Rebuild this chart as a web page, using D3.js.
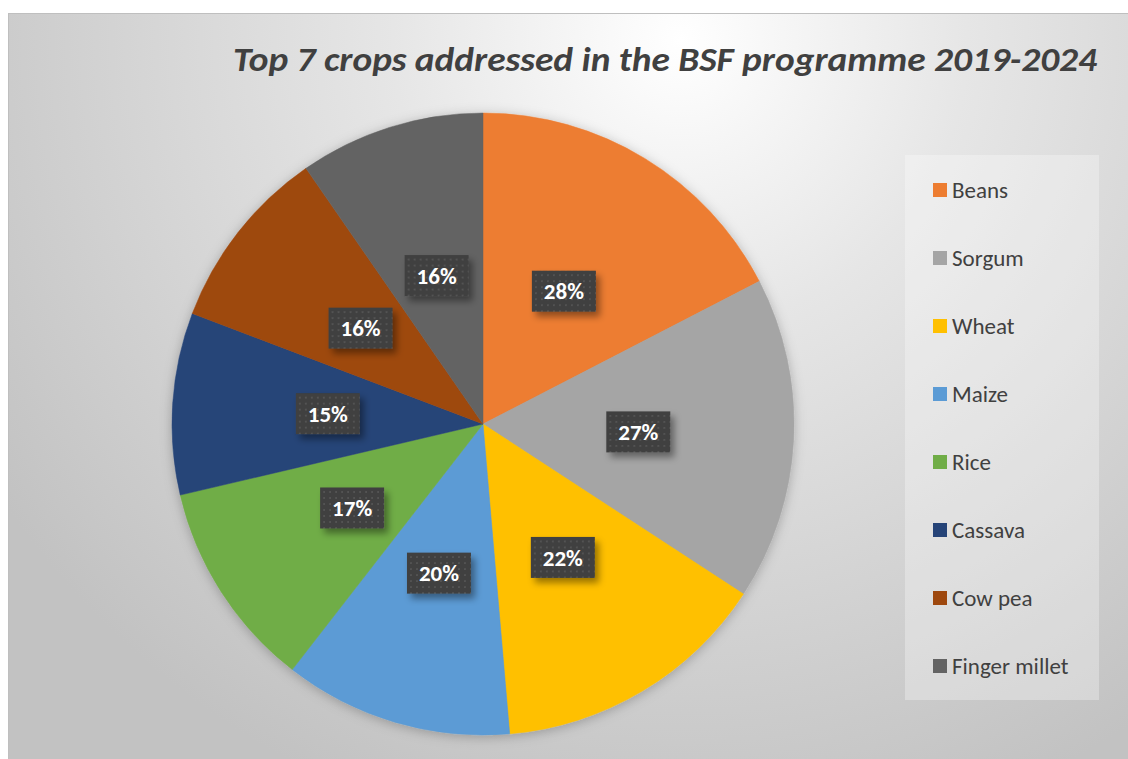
<!DOCTYPE html>
<html>
<head>
<meta charset="utf-8">
<script src="https://cdn.jsdelivr.net/npm/d3@7"></script>
<style>
  body { margin: 0; background: #fff; }
  svg { display: block; }
</style>
</head>
<body>
<div id="chart"></div>
<script>
// data
const crops = ['Beans', 'Sorgum', 'Wheat', 'Maize', 'Rice', 'Cassava', 'Cow pea', 'Finger millet'];
// labels as printed on the chart
const shares = [28, 27, 22, 20, 17, 15, 16, 16];
// slice sizes as drawn (they don't follow the labels exactly)
const sliceValues = [28, 27, 23.2, 19.1, 17.4, 15.2, 15.4, 15.5];
const colors = ['#ED7D31', '#A5A5A5', '#FFC000', '#5B9BD5', '#70AD47', '#264478', '#9E480E', '#636363'];
const title = 'Top 7 crops addressed in the BSF programme 2019-2024';

const width = 1128;
const height = 759;
const cx = 483, cy = 424, radius = 311;

const svg = d3.select('#chart').append('svg')
  .attr('width', width)
  .attr('height', height);

const defs = svg.append('defs');

// chart background gradient
const bg = defs.append('radialGradient')
  .attr('id', 'bg')
  .attr('gradientUnits', 'userSpaceOnUse')
  .attr('cx', 680).attr('cy', 40).attr('r', 820);
bg.append('stop').attr('offset', '0%').attr('stop-color', '#ffffff');
bg.append('stop').attr('offset', '35%').attr('stop-color', '#e6e6e6');
bg.append('stop').attr('offset', '100%').attr('stop-color', '#c2c2c2');

// dotted pattern for data label boxes
const pat = defs.append('pattern')
  .attr('id', 'dots')
  .attr('patternUnits', 'userSpaceOnUse')
  .attr('width', 6).attr('height', 6);
pat.append('rect').attr('width', 6).attr('height', 6).attr('fill', '#3f3f3f');
pat.append('rect').attr('x', 1).attr('y', 1).attr('width', 2).attr('height', 2).attr('fill', '#525252');

const shadow = defs.append('filter').attr('id', 'shadow')
  .attr('x', '-30%').attr('y', '-30%').attr('width', '160%').attr('height', '160%');
shadow.append('feDropShadow')
  .attr('dx', 4).attr('dy', 5).attr('stdDeviation', 3.5)
  .attr('flood-color', '#000').attr('flood-opacity', 0.4);

const pieShadow = defs.append('filter').attr('id', 'pieShadow')
  .attr('x', '-10%').attr('y', '-10%').attr('width', '120%').attr('height', '120%');
pieShadow.append('feDropShadow')
  .attr('dx', 0).attr('dy', 2).attr('stdDeviation', 6)
  .attr('flood-color', '#000').attr('flood-opacity', 0.25);

// chart area
svg.append('rect')
  .attr('x', 8.5).attr('y', 13.5)
  .attr('width', width - 8).attr('height', height - 13)
  .attr('fill', 'url(#bg)')
  .attr('stroke', '#bfbfbf')
  .attr('stroke-width', 1);

// title
svg.append('text')
  .attr('x', 665).attr('y', 71)
  .attr('text-anchor', 'middle')
  .attr('font-family', 'Carlito, "Open Sans", sans-serif')
  .attr('font-weight', 'bold')
  .attr('font-style', 'italic')
  .attr('font-size', 35)
  .attr('fill', '#404040')
  .attr('textLength', 864)
  .attr('lengthAdjust', 'spacingAndGlyphs')
  .text(title);

// pie
const pie = d3.pie().value(d => d.value).sort(null);
const arc = d3.arc().innerRadius(0).outerRadius(radius);
const arcs = pie(crops.map((c, i) => ({ label: c, value: sliceValues[i], share: shares[i], color: colors[i] })));

const g = svg.append('g').attr('transform', `translate(${cx}, ${cy})`);

g.append('g').attr('filter', 'url(#pieShadow)')
  .selectAll('path')
  .data(arcs)
  .enter().append('path')
  .attr('d', arc)
  .attr('fill', d => d.data.color)
  .attr('stroke', d => d.data.color)
  .attr('stroke-width', 0.5);

// data labels
const labels = g.selectAll('.lbl')
  .data(arcs)
  .enter().append('g')
  .attr('class', 'lbl')
  .attr('transform', d => `translate(${arc.centroid(d)})`);

const boxW = 64, boxH = 41;
labels.append('rect')
  .attr('x', -boxW / 2).attr('y', -boxH / 2)
  .attr('width', boxW).attr('height', boxH)
  .attr('fill', 'url(#dots)')
  .attr('filter', 'url(#shadow)');

labels.append('text')
  .attr('text-anchor', 'middle')
  .attr('dy', '0.36em')
  .attr('font-family', 'Carlito, "Open Sans", sans-serif')
  .attr('font-weight', 'bold')
  .attr('font-size', 23)
  .attr('fill', '#ffffff')
  .text(d => d.data.share + '%');

// legend
const legend = svg.append('g');
legend.append('rect')
  .attr('x', 905).attr('y', 155)
  .attr('width', 194).attr('height', 545)
  .attr('fill', '#ffffff')
  .attr('fill-opacity', 0.3);

const legendY = d3.scalePoint().domain(crops).range([190, 666]);

const items = legend.selectAll('.item')
  .data(crops)
  .enter().append('g')
  .attr('class', 'item')
  .attr('transform', d => `translate(933, ${legendY(d)})`);

items.append('rect')
  .attr('x', 0).attr('y', -7)
  .attr('width', 14).attr('height', 14)
  .attr('fill', (d, i) => colors[i]);

items.append('text')
  .attr('x', 19).attr('dy', '0.35em')
  .attr('font-family', 'Carlito, "Open Sans", sans-serif')
  .attr('font-size', 23)
  .attr('fill', '#404040')
  .text(d => d);
</script>
</body>
</html>
